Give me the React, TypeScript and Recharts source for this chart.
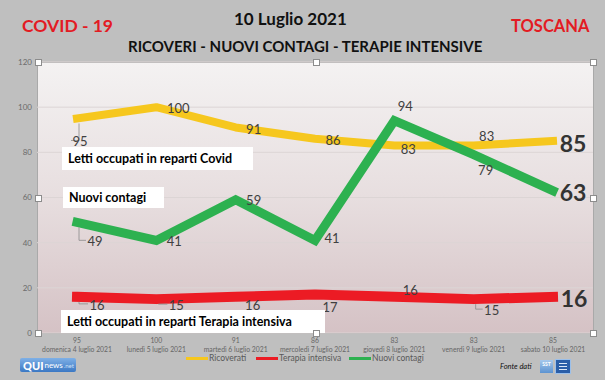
import React from 'react';
import { LineChart, Line, XAxis, YAxis, CartesianGrid, LabelList } from 'recharts';

const days = [
  'domenica 4 luglio 2021',
  'lunedì 5 luglio 2021',
  'martedì 6 luglio 2021',
  'mercoledì 7 luglio 2021',
  'giovedì 8 luglio 2021',
  'venerdì 9 luglio 2021',
  'sabato 10 luglio 2021',
];
const ricoverati = [95, 100, 91, 86, 83, 83, 85];
const terapiaIntensiva = [16, 15, 16, 17, 16, 15, 16];
const nuoviContagi = [49, 41, 59, 41, 94, 79, 63];
const yTicks = [0, 20, 40, 60, 80, 100, 120];

const data = days.map((d, i) => ({
  day: d,
  ricoverati: ricoverati[i],
  terapia: terapiaIntensiva[i],
  contagi: nuoviContagi[i],
}));

// label placement (layout only)
const yellowOff: [number, number][] = [[3, 23], [22, 1], [18, 2], [18, 1], [14, 3], [13, -10], [20, 2]];
const greenOff: [number, number][] = [[18, 19], [18, 1], [18, 0], [17, -2], [11, -15], [12, 15], [20, 1]];
const redOff: [number, number][] = [[20, 8], [20, 6], [17, 8], [15, 12], [16, -7], [18, 11], [21, 1]];

const FONT = 'Lato, "Open Sans", sans-serif';
const YELLOW = '#f6c71e';
const RED = '#ec1b24';
const GREEN = '#2db150';

const makeLabel = (off: [number, number][], leaders: number[]) => (props: any) => {
  const { x, y, value, index } = props;
  const [dx, dy] = off[index];
  const big = index === off.length - 1;
  return (
    <g>
      {leaders.includes(index) && (
        <polyline
          points={`${x + 2},${y + 5} ${x + 2},${y + dy - 1} ${x + dx - 9},${y + dy - 1}`}
          fill="none"
          stroke="#8a8a8a"
          strokeWidth={0.8}
        />
      )}
      <text
        x={x + dx}
        y={y + dy}
        textAnchor="middle"
        dominantBaseline="central"
        fontFamily={FONT}
        fontSize={big ? 23 : 13}
        fontWeight={big ? 700 : 400}
        fill={big ? '#333333' : '#404040'}
      >
        {value}
      </text>
    </g>
  );
};

const XTick = (props: any) => {
  const { x, y, index } = props;
  return (
    <g>
      <text x={x} y={y + 10} textAnchor="middle" fontFamily={FONT} fontSize={6.8} fill="#666">
        {ricoverati[index]}
      </text>
      <text x={x} y={y + 19} textAnchor="middle" fontFamily={FONT} fontSize={6.8} fill="#666">
        {days[index]}
      </text>
    </g>
  );
};

const Handle = ({ x, y }: { x: number; y: number }) => (
  <div
    style={{
      position: 'absolute',
      left: x - 3,
      top: y - 3,
      width: 5,
      height: 5,
      background: '#fff',
      border: '1px solid #8c8c8c',
      zIndex: 5,
    }}
  />
);

const boxStyle = (l: number, t: number, w: number, h: number): React.CSSProperties => ({
  position: 'absolute',
  left: l,
  top: t,
  width: w,
  height: h,
  background: '#ffffff',
  boxSizing: 'border-box',
  paddingLeft: 6,
  fontFamily: FONT,
  fontWeight: 700,
  fontSize: 12.5,
  color: '#000',
  lineHeight: `${h}px`,
  whiteSpace: 'nowrap',
  zIndex: 4,
});

const LegendItem = ({ color, label, left }: { color: string; label: string; left: number }) => (
  <div style={{ position: 'absolute', left, top: 352, height: 12, display: 'flex', alignItems: 'center' }}>
    <div style={{ width: 22, height: 3, background: color }} />
    <span style={{ fontFamily: FONT, fontSize: 8.5, color: '#595959', marginLeft: 1 }}>{label}</span>
  </div>
);

export default function App() {
  return (
    <div
      style={{
        position: 'absolute',
        left: 0,
        top: 0,
        width: 605,
        height: 380,
        background: '#bfbfbf',
        overflow: 'hidden',
      }}
    >
      {/* titles */}
      <div style={{ position: 'absolute', left: 22, top: 15, fontFamily: FONT, fontWeight: 700, fontSize: 17.5, color: '#e31b23' }}>
        COVID - 19
      </div>
      <div style={{ position: 'absolute', left: 511, top: 16, fontFamily: FONT, fontWeight: 700, fontSize: 16.5, color: '#e31b23' }}>
        TOSCANA
      </div>
      <div style={{ position: 'absolute', left: 234, top: 8, fontFamily: FONT, fontWeight: 700, fontSize: 17, color: '#111' }}>
        10 Luglio 2021
      </div>
      <div style={{ position: 'absolute', left: 128, top: 37, fontFamily: FONT, fontWeight: 700, fontSize: 15, color: '#111', whiteSpace: 'nowrap' }}>
        RICOVERI - NUOVI CONTAGI - TERAPIE INTENSIVE
      </div>

      {/* plot background */}
      <div
        style={{
          position: 'absolute',
          left: 37,
          top: 62,
          width: 557,
          height: 272,
          boxSizing: 'border-box',
          border: '1px solid #a9a9a9',
          background: 'linear-gradient(to bottom, #f4f2f2 0%, #e7dedf 50%, #d5c2c5 100%)',
        }}
      />

      <div style={{ position: 'absolute', left: 0, top: 0 }}>
        <LineChart width={605} height={380} data={data} margin={{ top: 62, right: 12, bottom: 17, left: 7 }}>
          <CartesianGrid horizontal vertical={false} stroke="#dcd5d5" strokeWidth={1} />
          <XAxis
            dataKey="day"
            height={30}
            axisLine={false}
            tickLine={false}
            tickSize={0}
            tickMargin={0}
            interval={0}
            padding={{ left: 40, right: 40 }}
            tick={<XTick />}
          />
          <YAxis
            domain={[0, 120]}
            ticks={yTicks}
            width={30}
            axisLine={false}
            tickLine={false}
            tickSize={0}
            tickMargin={5}
            tick={{ fontSize: 8, fill: '#6b6b6b', fontFamily: FONT }}
          />
          <Line
            dataKey="terapia"
            stroke={RED}
            strokeWidth={10}
            strokeLinecap="square"
            strokeLinejoin="round"
            dot={false}
            activeDot={false}
            isAnimationActive={false}
          >
            <LabelList dataKey="terapia" content={makeLabel(redOff, [0, 1, 5])} />
          </Line>
          <Line
            dataKey="ricoverati"
            stroke={YELLOW}
            strokeWidth={8}
            strokeLinecap="square"
            strokeLinejoin="round"
            dot={false}
            activeDot={false}
            isAnimationActive={false}
          >
            <LabelList dataKey="ricoverati" content={makeLabel(yellowOff, [0])} />
          </Line>
          <Line
            dataKey="contagi"
            stroke={GREEN}
            strokeWidth={9}
            strokeLinecap="square"
            strokeLinejoin="miter"
            dot={false}
            activeDot={false}
            isAnimationActive={false}
          >
            <LabelList dataKey="contagi" content={makeLabel(greenOff, [0])} />
          </Line>
        </LineChart>
      </div>

      {/* text boxes */}
      <div style={boxStyle(62, 147, 191, 23)}>Letti occupati in reparti Covid</div>
      <div style={boxStyle(63, 187, 101, 21)}>Nuovi contagi</div>
      <div style={boxStyle(61, 310, 264, 23)}>Letti occupati in reparti Terapia intensiva</div>

      {/* selection handles */}
      <Handle x={38} y={62} />
      <Handle x={316} y={62} />
      <Handle x={593} y={62} />
      <Handle x={38} y={198} />
      <Handle x={593} y={198} />
      <Handle x={38} y={333} />
      <Handle x={316} y={333} />
      <Handle x={593} y={333} />

      {/* legend */}
      <LegendItem color={YELLOW} label="Ricoverati" left={186} />
      <LegendItem color={RED} label="Terapia intensiva" left={256} />
      <LegendItem color={GREEN} label="Nuovi contagi" left={349} />

      {/* QUInews logo */}
      <div
        style={{
          position: 'absolute',
          left: 20,
          top: 358,
          width: 56,
          height: 14,
          borderRadius: 2,
          background: 'linear-gradient(to bottom, #7fb0e6, #3b78c4)',
          display: 'flex',
          alignItems: 'center',
          paddingLeft: 3,
          boxSizing: 'border-box',
          fontFamily: FONT,
          color: '#fff',
        }}
      >
        <span style={{ fontWeight: 900, fontSize: 11 }}>QUI</span>
        <span style={{ fontSize: 8, marginLeft: 1 }}>news</span>
        <span style={{ fontSize: 6, marginLeft: 1, color: '#cfe2f7' }}>.net</span>
      </div>

      {/* Fonte dati */}
      <div style={{ position: 'absolute', left: 500, top: 362, fontFamily: FONT, fontStyle: 'italic', fontSize: 7.5, color: '#111' }}>
        Fonte dati
      </div>
      <div
        style={{
          position: 'absolute',
          left: 540,
          top: 360,
          width: 13,
          height: 13,
          background: 'linear-gradient(to bottom, #a6c8ec, #5c93d1)',
          fontFamily: FONT,
          fontSize: 5,
          fontWeight: 700,
          color: '#fff',
          textAlign: 'center',
          lineHeight: '8px',
        }}
      >
        SST
      </div>
      <div
        style={{
          position: 'absolute',
          left: 555,
          top: 359,
          width: 16,
          height: 15,
          background: '#2a5ea8',
          border: '1px solid #9cc0ea',
          boxSizing: 'border-box',
        }}
      >
        <div style={{ margin: '3px 3px 0', height: 1, background: '#dbe8f8' }} />
        <div style={{ margin: '2px 3px 0', height: 1, background: '#dbe8f8' }} />
        <div style={{ margin: '2px 3px 0', height: 1, background: '#dbe8f8' }} />
      </div>
    </div>
  );
}
